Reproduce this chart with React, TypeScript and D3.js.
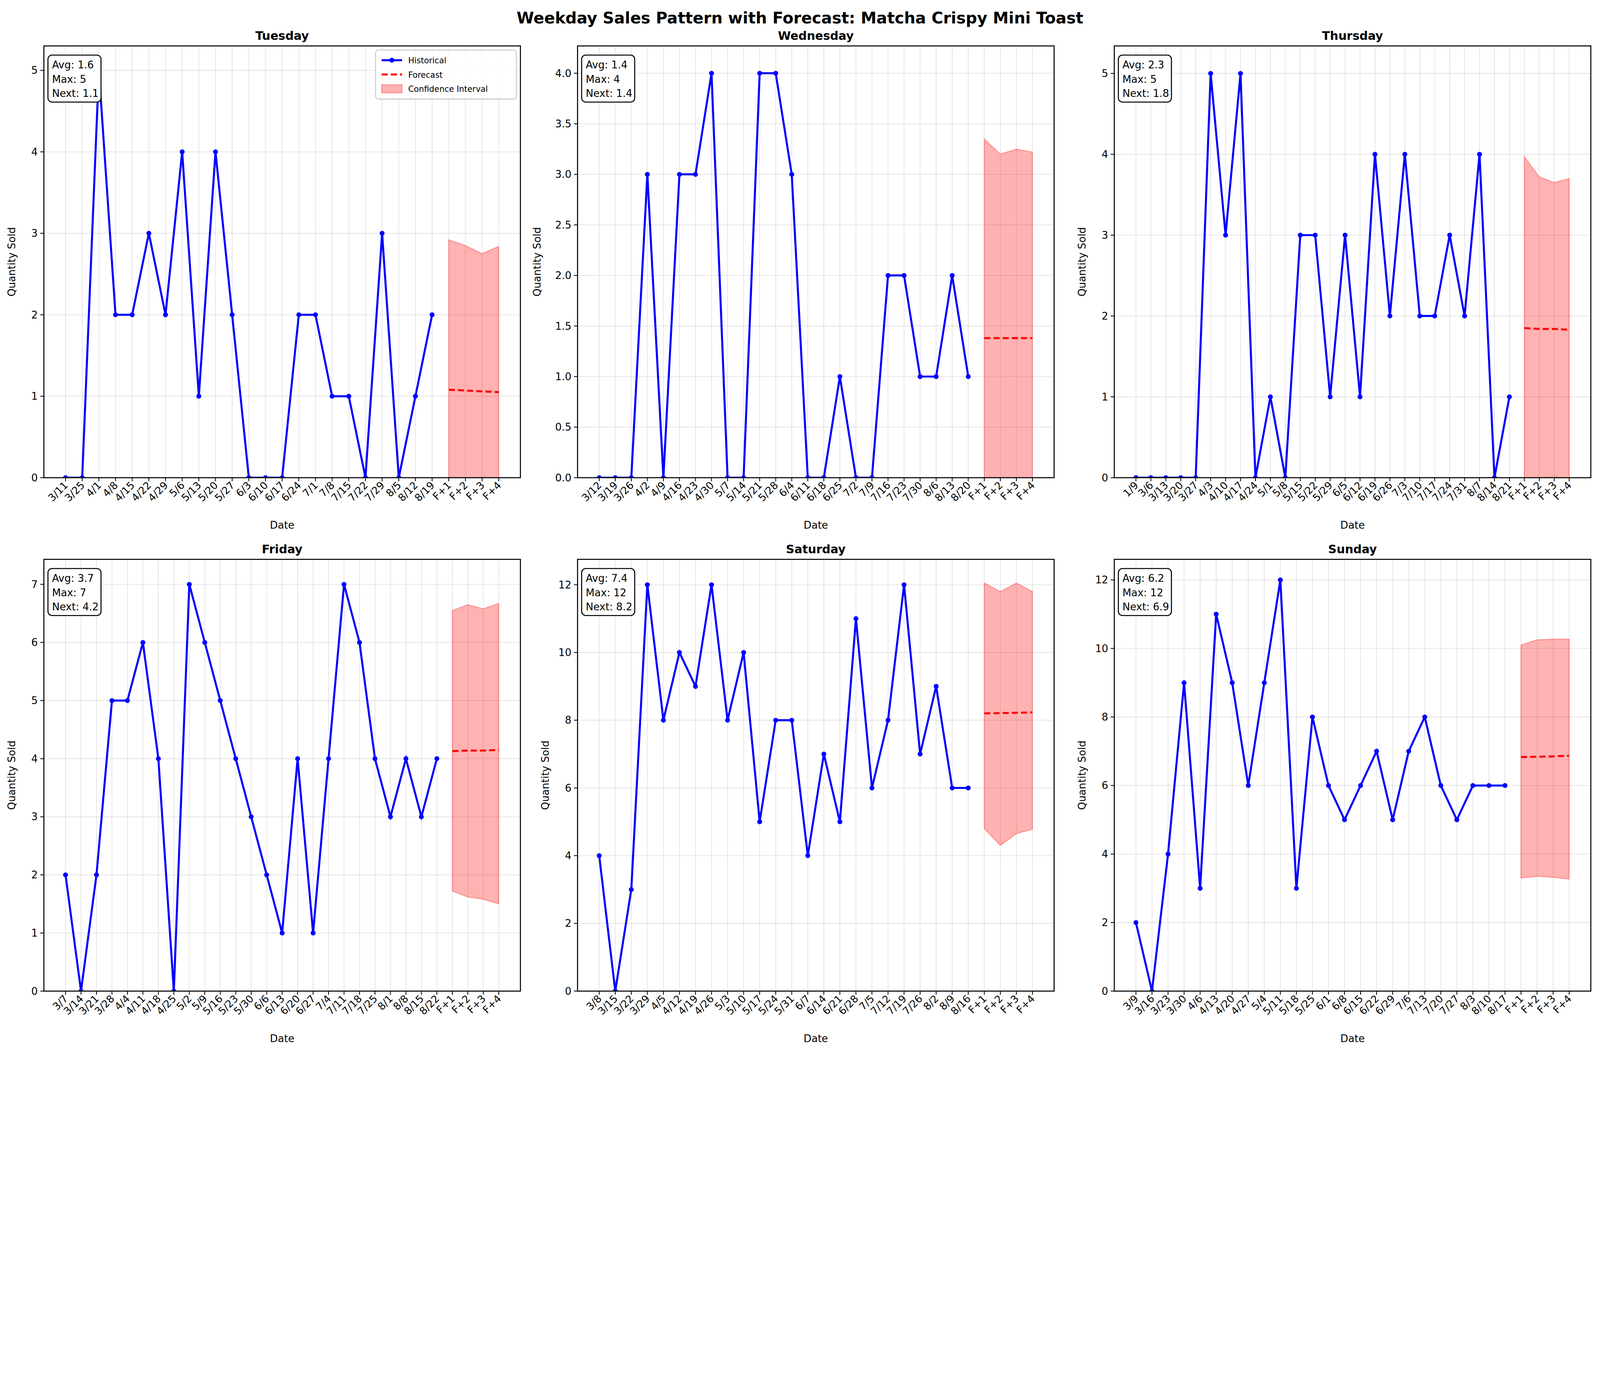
import React from "react";
import * as d3 from "d3";

const days = ["Tuesday", "Wednesday", "Thursday", "Friday", "Saturday", "Sunday"];
const tueDates = ["3/11","3/25","4/1","4/8","4/15","4/22","4/29","5/6","5/13","5/20","5/27","6/3","6/10","6/17","6/24","7/1","7/8","7/15","7/22","7/29","8/5","8/12","8/19"];
const tueVals = [0,0,5,2,2,3,2,4,1,4,2,0,0,0,2,2,1,1,0,3,0,1,2];
const wedDates = ["3/12","3/19","3/26","4/2","4/9","4/16","4/23","4/30","5/7","5/14","5/21","5/28","6/4","6/11","6/18","6/25","7/2","7/9","7/16","7/23","7/30","8/6","8/13","8/20"];
const wedVals = [0,0,0,3,0,3,3,4,0,0,4,4,3,0,0,1,0,0,2,2,1,1,2,1];
const thuDates = ["1/9","3/6","3/13","3/20","3/27","4/3","4/10","4/17","4/24","5/1","5/8","5/15","5/22","5/29","6/5","6/12","6/19","6/26","7/3","7/10","7/17","7/24","7/31","8/7","8/14","8/21"];
const thuVals = [0,0,0,0,0,5,3,5,0,1,0,3,3,1,3,1,4,2,4,2,2,3,2,4,0,1];
const friDates = ["3/7","3/14","3/21","3/28","4/4","4/11","4/18","4/25","5/2","5/9","5/16","5/23","5/30","6/6","6/13","6/20","6/27","7/4","7/11","7/18","7/25","8/1","8/8","8/15","8/22"];
const friVals = [2,0,2,5,5,6,4,0,7,6,5,4,3,2,1,4,1,4,7,6,4,3,4,3,4];
const satDates = ["3/8","3/15","3/22","3/29","4/5","4/12","4/19","4/26","5/3","5/10","5/17","5/24","5/31","6/7","6/14","6/21","6/28","7/5","7/12","7/19","7/26","8/2","8/9","8/16"];
const satVals = [4,0,3,12,8,10,9,12,8,10,5,8,8,4,7,5,11,6,8,12,7,9,6,6];
const sunDates = ["3/9","3/16","3/23","3/30","4/6","4/13","4/20","4/27","5/4","5/11","5/18","5/25","6/1","6/8","6/15","6/22","6/29","7/6","7/13","7/20","7/27","8/3","8/10","8/17"];
const sunVals = [2,0,4,9,3,11,9,6,9,12,3,8,6,5,6,7,5,7,8,6,5,6,6,6];
const fcLabels = ["F+1","F+2","F+3","F+4"];
const fcTue = [1.08,1.07,1.06,1.05];
const fcWed = [1.38,1.38,1.38,1.38];
const fcThu = [1.85,1.84,1.84,1.83];
const fcFri = [4.13,4.14,4.14,4.15];
const fcSat = [8.2,8.21,8.22,8.23];
const fcSun = [6.83,6.84,6.85,6.87];
const upTue = [2.92,2.85,2.75,2.84];
const loTue = [-0.8,-0.7,-0.65,-0.75];
const upWed = [3.35,3.2,3.25,3.22];
const loWed = [-0.6,-0.45,-0.5,-0.45];
const upThu = [3.97,3.72,3.65,3.7];
const loThu = [-0.3,-0.05,0.02,-0.05];
const upFri = [6.55,6.65,6.58,6.67];
const loFri = [1.72,1.62,1.58,1.5];
const upSat = [12.05,11.8,12.05,11.8];
const loSat = [4.8,4.3,4.65,4.78];
const upSun = [10.1,10.25,10.27,10.27];
const loSun = [3.3,3.35,3.32,3.27];
const stats = [["1.6","5","1.1"],["1.4","4","1.4"],["2.3","5","1.8"],["3.7","7","4.2"],["7.4","12","8.2"],["6.2","12","6.9"]];
const yMaxes = [5.3, 4.27, 5.34, 7.43, 12.75, 12.6];
const yTickSets = [d3.range(0,6,1), d3.range(0,4.01,0.5), d3.range(0,6,1), d3.range(0,8,1), d3.range(0,13,2), d3.range(0,13,2)];

const panels = [
  [tueDates, tueVals, fcTue, upTue, loTue],
  [wedDates, wedVals, fcWed, upWed, loWed],
  [thuDates, thuVals, fcThu, upThu, loThu],
  [friDates, friVals, fcFri, upFri, loFri],
  [satDates, satVals, fcSat, upSat, loSat],
  [sunDates, sunVals, fcSun, upSun, loSun],
] as [string[], number[], number[], number[], number[]][];

const lefts = [43, 566, 1092];
const tops = [45, 548];
const W = 467, H = 423;
const F = "DejaVu Sans, sans-serif";

function Panel({ idx }: { idx: number }) {
  const [dates, vals, fc, up, lo] = panels[idx];
  const x0 = lefts[idx % 3], y0 = tops[Math.floor(idx / 3)];
  const n = dates.length;
  const labels = [...dates, ...fcLabels];
  const N = labels.length;
  const m = 0.05 * (N - 1);
  const x = d3.scaleLinear().domain([-m, N - 1 + m]).range([0, W]);
  const y = d3.scaleLinear().domain([0, yMaxes[idx]]).range([H, 0]);
  const line = d3.line<number>().x((_, i) => x(i)).y(d => y(d));
  const fline = d3.line<number>().x((_, i) => x(n + i)).y(d => y(d));
  const area = d3.area<number>().x((_, i) => x(n + i)).y0((_, i) => y(lo[i])).y1(d => y(d));
  const ticks = yTickSets[idx];
  const fmt = idx === 1 ? d3.format(".1f") : d3.format("d");
  const clipId = "clip" + idx;
  const s = stats[idx];
  return (
    <g transform={`translate(${x0},${y0})`}>
      <defs><clipPath id={clipId}><rect width={W} height={H} /></clipPath></defs>
      <rect width={W} height={H} fill="white" />
      {labels.map((_, i) => <line key={"gx" + i} x1={x(i)} x2={x(i)} y1={0} y2={H} stroke="#b0b0b0" strokeOpacity={0.3} strokeWidth={0.8} />)}
      {ticks.map(t => <line key={"gy" + t} x1={0} x2={W} y1={y(t)} y2={y(t)} stroke="#b0b0b0" strokeOpacity={0.3} strokeWidth={0.8} />)}
      <g clipPath={`url(#${clipId})`}>
        <path d={area(up) || ""} fill="red" fillOpacity={0.3} stroke="red" strokeOpacity={0.3} strokeWidth={1} />
        <path d={line(vals) || ""} fill="none" stroke="blue" strokeWidth={2} />
        {vals.map((v, i) => <circle key={i} cx={x(i)} cy={y(v)} r={2.4} fill="blue" />)}
        <path d={fline(fc) || ""} fill="none" stroke="red" strokeWidth={2} strokeDasharray="6,3" />
      </g>
      <rect width={W} height={H} fill="none" stroke="black" strokeWidth={1} />
      {labels.map((l, i) => (
        <g key={"t" + i}>
          <line x1={x(i)} x2={x(i)} y1={H} y2={H + 3.5} stroke="black" strokeWidth={0.8} />
          <text transform={`translate(${x(i) + 3},${H + 8}) rotate(-45)`} textAnchor="end" fontSize={10} fontFamily={F}>{l}</text>
        </g>
      ))}
      {ticks.map(t => (
        <g key={"yt" + t}>
          <line x1={-3.5} x2={0} y1={y(t)} y2={y(t)} stroke="black" strokeWidth={0.8} />
          <text x={-6} y={y(t)} dy="0.35em" textAnchor="end" fontSize={10} fontFamily={F}>{fmt(t)}</text>
        </g>
      ))}
      <text x={W / 2} y={H + 50} textAnchor="middle" fontSize={10} fontFamily={F}>Date</text>
      <text transform={`translate(${idx === 1 ? -36 : -28},${H / 2}) rotate(-90)`} textAnchor="middle" fontSize={10} fontFamily={F}>Quantity Sold</text>
      <text x={W / 2} y={-6} textAnchor="middle" fontSize={11.5} fontWeight="bold" fontFamily={F}>{days[idx]}</text>
      <rect x={4} y={9} width={52} height={46} rx={4} fill="white" stroke="black" strokeWidth={1} />
      {[`Avg: ${s[0]}`, `Max: ${s[1]}`, `Next: ${s[2]}`].map((t, i) => (
        <text key={t} x={8} y={22 + i * 14} fontSize={10} fontFamily={F}>{t}</text>
      ))}
      {idx === 0 && (
        <g transform={`translate(${W - 142},4)`}>
          <rect width={138} height={48} rx={3} fill="white" fillOpacity={0.8} stroke="#ccc" />
          <line x1={6} x2={26} y1={10} y2={10} stroke="blue" strokeWidth={2} />
          <circle cx={16} cy={10} r={2.4} fill="blue" />
          <text x={32} y={13} fontSize={8} fontFamily={F}>Historical</text>
          <line x1={6} x2={26} y1={24} y2={24} stroke="red" strokeWidth={2} strokeDasharray="6,3" />
          <text x={32} y={27} fontSize={8} fontFamily={F}>Forecast</text>
          <rect x={6} y={34} width={20} height={8} fill="red" fillOpacity={0.3} stroke="red" strokeOpacity={0.3} />
          <text x={32} y={41} fontSize={8} fontFamily={F}>Confidence Interval</text>
        </g>
      )}
    </g>
  );
}

export default function App() {
  return (
    <svg viewBox="0 0 1568 1034" preserveAspectRatio="xMinYMin meet"
      style={{ position: "fixed", left: 0, top: 0, width: "100vw", height: "100vh", display: "block", background: "white" }}>
      <rect width={1568} height={1034} fill="white" />
      <text x={784} y={23} textAnchor="middle" fontSize={15.5} fontWeight="bold" fontFamily={F}>Weekday Sales Pattern with Forecast: Matcha Crispy Mini Toast</text>
      {days.map((_, i) => <Panel key={i} idx={i} />)}
    </svg>
  );
}
